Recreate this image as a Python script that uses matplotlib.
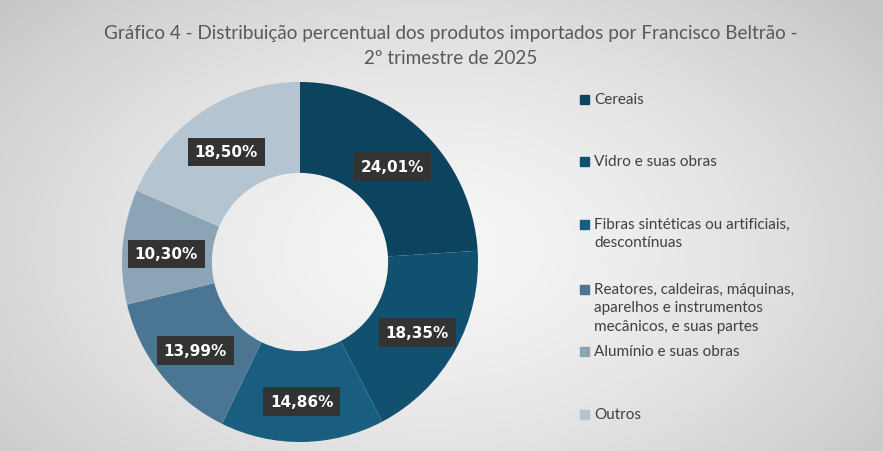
import numpy as np
import matplotlib
matplotlib.use("Agg")
import matplotlib.pyplot as plt

categories = ["Cereais", "Vidro e suas obras", "Fibras sintéticas ou artificiais,\ndescontínuas",
              "Reatores, caldeiras, máquinas,\naparelhos e instrumentos\nmecânicos, e suas partes",
              "Alumínio e suas obras", "Outros"]
values = [24.01, 18.35, 14.86, 13.99, 10.30, 18.50]
value_labels = ["24,01%", "18,35%", "14,86%", "13,99%", "10,30%", "18,50%"]
colors = ["#0c4460", "#12506f", "#195e80", "#4b7693", "#8ba4b6", "#b4c4d1"]
title = "Gráfico 4 - Distribuição percentual dos produtos importados por Francisco Beltrão -\n2º trimestre de 2025"

W, H = 883, 452
fig = plt.figure(figsize=(W/100, H/100), dpi=100)

# background radial gradient
bg = fig.add_axes([0, 0, 1, 1])
yy, xx = np.mgrid[0:H, 0:W]
d = np.sqrt(((xx - 430) / 520) ** 2 + ((yy - 250) / 330) ** 2)
g = np.clip(0.965 - 0.16 * d ** 1.5, 0.78, 1.0)
bg.imshow(np.dstack([g, g, g]), extent=[0, W, H, 0], aspect="auto")
bg.set_xlim(0, W); bg.set_ylim(H, 0)
bg.axis("off")

fig.text(451/W, 1 - 46/H, title, ha="center", va="center", fontsize=13.6,
         color="#595959", family="Lato", linespacing=1.5)

# pie axes: center (300,263), radii 178 x 180
RX, RY, CX, CY = 178, 180, 300, 263
ax = fig.add_axes([(CX - RX)/W, 1 - (CY + RY)/H, 2*RX/W, 2*RY/H])
wedges, _ = ax.pie(values, colors=colors, startangle=90, counterclock=False,
                   radius=1.0, wedgeprops=dict(width=0.505, edgecolor="none"))
ax.set_xlim(-1, 1); ax.set_ylim(-1, 1)
ax.set_aspect("auto")

cum = np.cumsum([0] + values[:-1])
for v, c0, lab in zip(values, cum, value_labels):
    ang = np.deg2rad(90 - (c0 + v/2) / sum(values) * 360)
    r = 0.755
    ax.annotate(lab, (r*np.cos(ang), r*np.sin(ang)), xytext=(0, -2.5),
                textcoords="offset points", ha="center", va="center",
                fontsize=11, fontweight="bold", color="white", family="DejaVu Sans",
                bbox=dict(boxstyle="square,pad=0.45", fc="#333333", ec="none"))

# legend
leg_y = [100, 162, 225, 290, 352, 415]
for lab, col, y in zip(categories, colors, leg_y):
    bg.add_patch(plt.Rectangle((580, y - 4.5), 9, 9, color=col))
    bg.text(594, y - 7, lab, ha="left", va="top", fontsize=11, color="#404040",
            family="Lato", linespacing=1.4)

fig.savefig("out.png", dpi=100)
